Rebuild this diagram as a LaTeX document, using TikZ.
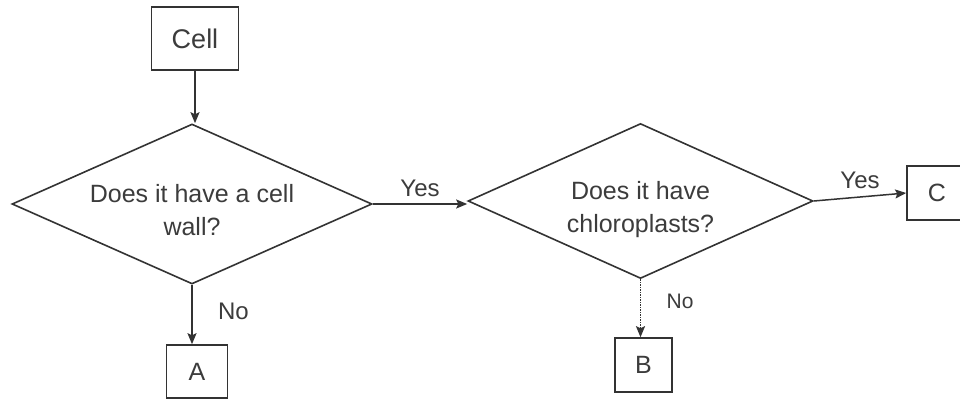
\documentclass[tikz,border=0pt]{standalone}
\usepackage{fontspec}
\setmainfont{Liberation Sans}
\usetikzlibrary{shapes.geometric,arrows.meta}
\definecolor{ink}{HTML}{333333}
\definecolor{txt}{HTML}{3c3c3c}
\newcommand{\dtext}[2]{\raisebox{-8pt}[\height][\depth]{\begin{tabular}{@{}c@{}}#1\\#2\end{tabular}}}
\begin{document}
\begin{tikzpicture}[x=1pt,y=-1pt,
  every node/.style={text=txt,font=\fontsize{25}{33}\selectfont},
  box/.style={draw=ink,line width=1.6pt,rectangle,inner sep=0pt},
  decide/.style={draw=ink,line width=1.6pt,diamond,inner sep=0pt,aspect=2.2},
  conn/.style={draw=ink,line width=1.5pt,-{Stealth[length=11pt,width=9pt,inset=2pt]}},
  lbl/.style={font=\fontsize{24}{28}\selectfont}]
\useasboundingbox (0,0) rectangle (960,399);
\clip (0,0) rectangle (960,399);
\fill[white] (0,0) rectangle (960,399);
\node[box,minimum width=87pt,minimum height=63pt,font=\fontsize{27}{30}\selectfont] (cell) at (195,38.5) {Cell};
\node[decide,minimum width=360pt,minimum height=160pt] (d1) at (192,204) {\dtext{Does it have a cell}{wall?}};
\node[decide,minimum width=345pt,minimum height=155pt] (d2) at (640.5,201) {\dtext{Does it have}{chloroplasts?}};
\node[box,minimum width=60pt,minimum height=54pt] (c) at (937,193) {C};
\node[box,minimum width=61pt,minimum height=53pt] (a) at (197,371.5) {A};
\node[box,minimum width=57pt,minimum height=54pt] (b) at (643.5,365) {B};
\draw[conn] (cell.south) -- (cell.south |- d1.north);
\draw[conn] (d1.east) -- (d1.east -| d2.west) node[midway,above=3pt,lbl] (yes1) {Yes};
\draw[conn] (d2.east) -- (c.west) node[midway,above=4pt,lbl] (yes2) {Yes};
\draw[conn] (d1.south) -- (d1.south |- a.north) node[pos=0.45,right=22pt,lbl] (no1) {No};
\draw[conn,densely dotted] (d2.south) -- (d2.south |- b.north) node[pos=0.38,right=22pt,lbl,font=\fontsize{21}{24}\selectfont] (no2) {No};
\end{tikzpicture}
\end{document}
